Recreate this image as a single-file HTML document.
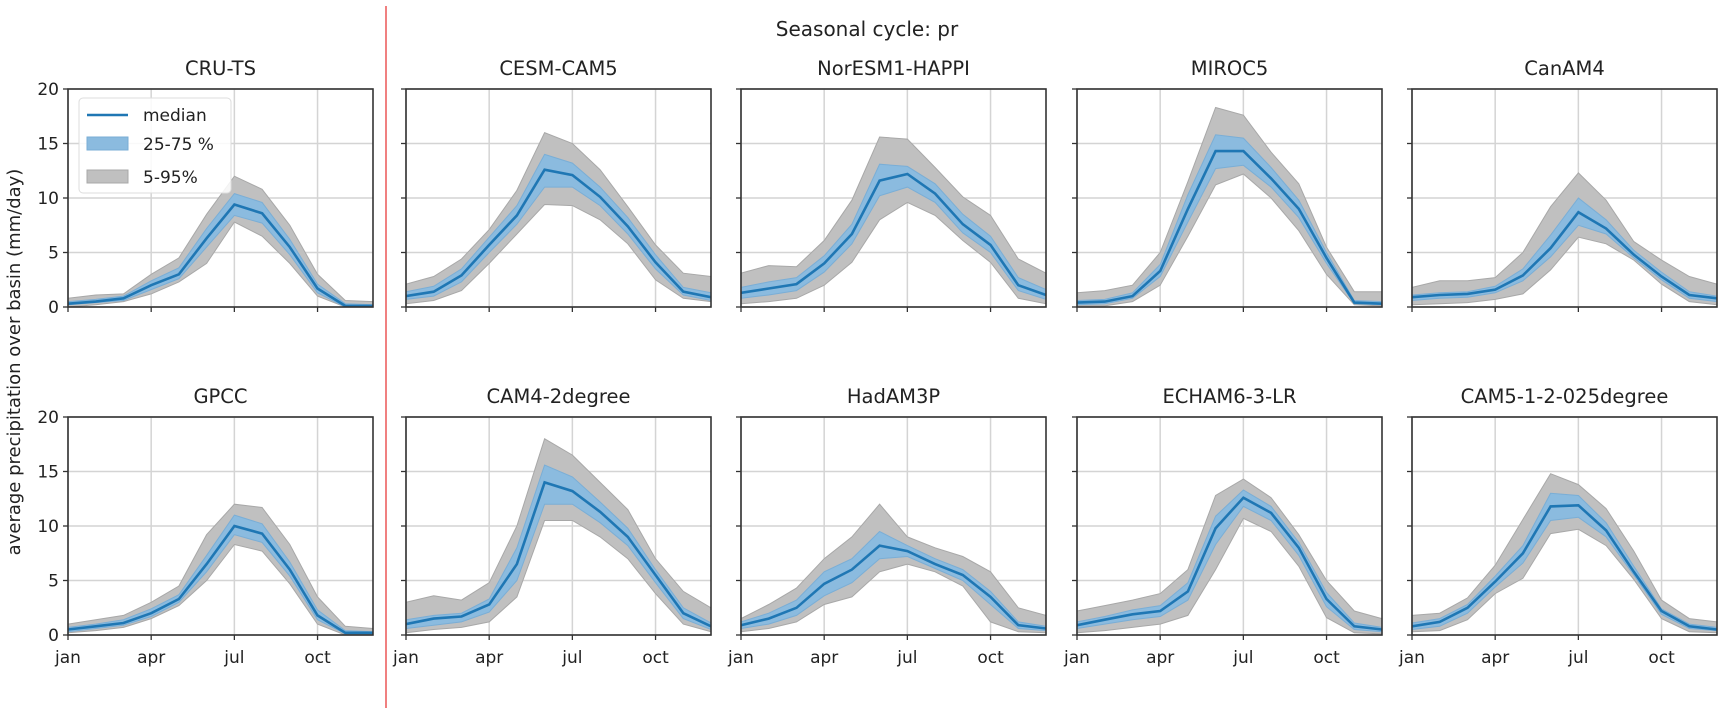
<!DOCTYPE html>
<html><head><meta charset="utf-8"><style>
html,body{margin:0;padding:0;background:#fff;}
svg{display:block;font-family:"DejaVu Sans","Liberation Sans",sans-serif;}
</style></head><body>
<svg id="fig" width="1720" height="716" viewBox="0 0 1720 716">
<line x1="386" y1="6" x2="386" y2="708" stroke="#f08080" stroke-width="2"/>
<text x="867" y="36" font-size="20" text-anchor="middle" fill="#222">Seasonal cycle: pr</text>
<text transform="translate(20,362) rotate(-90)" font-size="18" text-anchor="middle" fill="#222">average precipitation over basin (mm/day)</text>
</svg>
<script>
const months=['jan','feb','mar','apr','may','jun','jul','aug','sep','oct','nov','dec'];
const xTickLabels=['jan','apr','jul','oct'];
const xTickIdx=[0,3,6,9];
const yTicks=[0,5,10,15,20];
const panelNames=['CRU-TS','CESM-CAM5','NorESM1-HAPPI','MIROC5','CanAM4','GPCC','CAM4-2degree','HadAM3P','ECHAM6-3-LR','CAM5-1-2-025degree'];
const medianVals=[
[0.3,0.5,0.8,2.0,3.0,6.3,9.4,8.6,5.5,1.7,0.1,0.1],
[1.0,1.4,2.9,5.7,8.4,12.6,12.1,10.1,7.4,4.1,1.4,0.9],
[1.3,1.7,2.1,4.0,6.7,11.6,12.2,10.4,7.6,5.7,2.0,1.1],
[0.4,0.5,1.0,3.3,9.0,14.3,14.3,11.8,9.0,4.5,0.4,0.3],
[0.9,1.1,1.2,1.6,2.9,5.4,8.7,7.2,4.8,2.8,1.1,0.8],
[0.5,0.8,1.1,2.0,3.3,6.5,10.0,9.3,6.0,1.8,0.2,0.2],
[1.0,1.5,1.7,2.8,6.5,14.0,13.2,11.3,9.0,5.5,2.0,0.8],
[0.9,1.5,2.5,4.7,6.0,8.2,7.7,6.5,5.5,3.5,0.9,0.6],
[0.9,1.4,1.9,2.2,4.0,9.8,12.6,11.2,8.0,3.3,0.8,0.5],
[0.8,1.2,2.5,4.9,7.5,11.8,11.9,9.6,5.8,2.2,0.8,0.5]];
const p75Vals=[
[0.5,0.7,1.0,2.4,3.6,7.2,10.4,9.6,6.2,2.1,0.3,0.2],
[1.4,1.9,3.5,6.4,9.3,14.0,13.2,11.0,8.2,4.8,1.8,1.3],
[1.8,2.3,2.7,4.7,7.6,13.1,12.9,11.3,8.5,6.5,2.7,1.6],
[0.6,0.7,1.3,3.9,10.3,15.8,15.5,12.8,9.8,5.0,0.6,0.5],
[1.1,1.3,1.4,1.9,3.5,6.6,10.0,8.0,5.2,3.2,1.4,1.0],
[0.7,1.0,1.4,2.4,3.7,7.3,11.0,10.2,6.7,2.3,0.4,0.3],
[1.4,1.8,2.0,3.3,8.0,15.6,14.5,12.2,9.8,6.0,2.5,1.1],
[1.2,2.0,3.2,5.8,7.0,9.5,8.2,7.0,6.0,4.0,1.2,0.8],
[1.2,1.7,2.3,2.7,4.8,10.9,13.3,11.8,8.5,3.9,1.1,0.7],
[1.1,1.5,2.8,5.4,8.2,13.0,12.8,10.3,6.3,2.4,1.0,0.7]];
const p25Vals=[
[0.2,0.4,0.6,1.6,2.6,5.5,8.4,7.7,4.8,1.3,0.0,0.0],
[0.7,1.0,2.3,5.0,7.6,11.0,11.0,9.3,6.7,3.5,1.1,0.6],
[0.8,1.1,1.5,3.2,5.8,10.2,11.0,9.6,6.8,5.0,1.5,0.7],
[0.2,0.3,0.8,2.8,7.8,12.7,13.0,11.0,8.2,4.0,0.3,0.2],
[0.6,0.8,0.9,1.3,2.4,4.6,7.5,6.7,4.5,2.5,0.8,0.5],
[0.3,0.6,0.9,1.7,3.0,5.8,9.2,8.5,5.4,1.4,0.1,0.1],
[0.6,0.9,1.2,2.1,5.0,12.0,12.0,10.3,8.2,4.8,1.5,0.5],
[0.6,1.0,1.8,3.6,4.8,7.0,7.2,6.1,5.0,2.8,0.6,0.4],
[0.6,1.0,1.4,1.7,3.2,8.3,11.8,10.5,7.3,2.6,0.5,0.3],
[0.5,0.8,2.0,4.4,6.6,10.5,10.8,9.0,5.5,1.9,0.6,0.4]];
const p95Vals=[
[0.8,1.1,1.2,3.0,4.5,8.5,12.0,10.8,7.5,3.0,0.6,0.5],
[2.1,2.8,4.4,7.1,10.7,16.0,15.0,12.6,9.2,5.7,3.1,2.8],
[3.1,3.8,3.7,6.1,9.8,15.6,15.4,12.8,10.1,8.4,4.4,3.1],
[1.3,1.5,2.0,5.0,11.5,18.3,17.6,14.2,11.3,5.5,1.4,1.4],
[1.8,2.4,2.4,2.7,5.0,9.2,12.3,9.8,6.0,4.3,2.8,2.1],
[1.0,1.4,1.8,3.0,4.5,9.2,12.0,11.7,8.3,3.5,0.8,0.6],
[3.0,3.6,3.2,4.8,10.0,18.0,16.5,14.0,11.5,7.0,4.0,2.5],
[1.5,2.8,4.3,7.0,9.0,12.0,9.0,8.0,7.2,5.8,2.5,1.8],
[2.2,2.7,3.2,3.8,6.0,12.8,14.3,12.6,9.2,5.0,2.2,1.5],
[1.8,2.0,3.4,6.4,10.6,14.8,13.8,11.6,7.7,3.2,1.5,1.2]];
const p5Vals=[
[0.0,0.2,0.5,1.2,2.3,4.0,7.8,6.5,4.0,1.0,0.0,0.0],
[0.3,0.6,1.5,4.0,6.7,9.4,9.3,8.0,5.8,2.5,0.8,0.5],
[0.3,0.5,0.8,2.0,4.1,8.0,9.6,8.4,6.1,4.1,0.8,0.3],
[0.1,0.1,0.5,2.0,6.5,11.2,12.2,10.0,7.0,3.0,0.2,0.1],
[0.2,0.3,0.4,0.7,1.2,3.4,6.4,5.8,4.3,2.1,0.5,0.2],
[0.2,0.4,0.7,1.5,2.7,5.0,8.3,7.7,4.7,1.0,0.0,0.0],
[0.2,0.5,0.7,1.2,3.5,10.5,10.5,9.0,7.0,3.8,1.0,0.3],
[0.3,0.6,1.2,2.8,3.5,5.8,6.5,5.8,4.5,1.2,0.3,0.2],
[0.2,0.4,0.7,1.0,1.8,6.0,10.7,9.5,6.3,1.6,0.2,0.1],
[0.3,0.4,1.4,3.8,5.2,9.3,9.7,8.2,5.1,1.5,0.3,0.2]];

const NS='http://www.w3.org/2000/svg';
const svg=document.getElementById('fig');
const colX=[68,406,741,1077,1412];
const rowY=[89,417];
const PW=305, PH=218;
function mk(tag,attrs,parent){const e=document.createElementNS(NS,tag);for(const k in attrs)e.setAttribute(k,attrs[k]);(parent||svg).appendChild(e);return e;}
panelNames.forEach((name,p)=>{
  const r=Math.floor(p/5), c=p%5;
  const x0=colX[c], y0=rowY[r];
  const sx=i=>x0+i*PW/11;
  const sy=v=>y0+PH-v*PH/20;
  const g=mk('g',{});
  
  
  const clipId='clip'+p;
  const cp=mk('clipPath',{id:clipId},g);mk('rect',{x:x0,y:y0,width:PW,height:PH},cp);
  // grid
  yTicks.forEach(t=>{const l=mk('line',{x1:x0,x2:x0+PW,y1:sy(t),y2:sy(t),stroke:'#d4d4d4','stroke-width':1.5},g);
    });
  xTickIdx.forEach(t=>{const l=mk('line',{x1:sx(t),x2:sx(t),y1:y0,y2:y0+PH,stroke:'#d4d4d4','stroke-width':1.5},g);
    });
  const band=(hi,lo,fill,stroke,nm)=>{
    let d='M'+hi.map((v,i)=>sx(i).toFixed(1)+','+sy(v).toFixed(1)).join('L');
    for(let i=lo.length-1;i>=0;i--)d+='L'+sx(i).toFixed(1)+','+sy(lo[i]).toFixed(1);
    const e=mk('path',{d:d+'Z',fill:fill,stroke:stroke,'stroke-width':1,'clip-path':'url(#'+clipId+')'},g);
    };
  band(p95Vals[p],p5Vals[p],'#c0c0c0','#a8a8a8','band-5-95');
  band(p75Vals[p],p25Vals[p],'#8bbbdf','#7aaed6','band-25-75');
  const ml=mk('polyline',{points:medianVals[p].map((v,i)=>sx(i).toFixed(1)+','+sy(v).toFixed(1)).join(' '),fill:'none',stroke:'#1f77b4','stroke-width':2.6,'clip-path':'url(#'+clipId+')'},g);
  
  const fr=mk('rect',{x:x0,y:y0,width:PW,height:PH,fill:'none',stroke:'#333','stroke-width':1.6},g);
  
  yTicks.forEach(t=>{mk('line',{x1:x0-5,x2:x0,y1:sy(t),y2:sy(t),stroke:'#333','stroke-width':1.3},g);
    if(c===0){const tx=mk('text',{x:x0-9,y:sy(t)+6,'font-size':17,'text-anchor':'end',fill:'#222'},g);tx.textContent=t;
      }});
  xTickIdx.forEach((t,k)=>{mk('line',{x1:sx(t),x2:sx(t),y1:y0+PH,y2:y0+PH+5,stroke:'#333','stroke-width':1.3},g);
    if(r===1){const tx=mk('text',{x:sx(t),y:y0+PH+28,'font-size':17,'text-anchor':'middle',fill:'#222'},g);tx.textContent=xTickLabels[k];
      }});
  const tt=mk('text',{x:x0+PW/2,y:y0-14,'font-size':19.5,'text-anchor':'middle',fill:'#222'},g);tt.textContent=name;
  
});
// legend
const lg=mk('g',{});


mk('rect',{x:79,y:98,width:152,height:95,rx:4,fill:'rgba(255,255,255,0.85)',stroke:'#ddd','stroke-width':1},lg);
mk('line',{x1:87,x2:128,y1:115,y2:115,stroke:'#1f77b4','stroke-width':2.6},lg);
mk('rect',{x:87,y:137,width:41,height:13,fill:'#8bbbdf',stroke:'#7aaed6'},lg);
mk('rect',{x:87,y:170,width:41,height:13,fill:'#c0c0c0',stroke:'#a8a8a8'},lg);
[['median',121],['25-75 %',150],['5-95%',183]].forEach(([t,y])=>{const e=mk('text',{x:143,y:y,'font-size':17,fill:'#222'},lg);e.textContent=t;
  });
</script>
</body></html>
